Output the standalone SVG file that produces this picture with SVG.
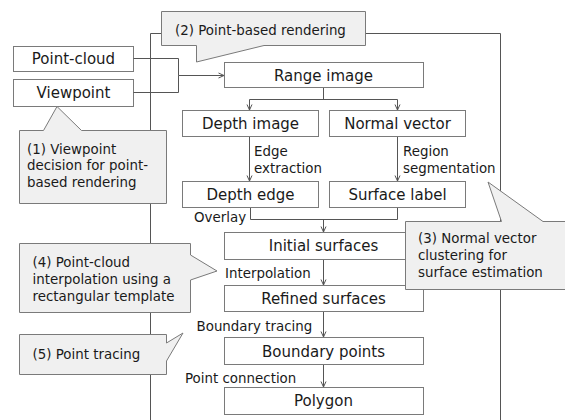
<svg xmlns="http://www.w3.org/2000/svg" width="565" height="420" viewBox="0 0 565 420">
<defs>
<style>
.box{fill:#fff;stroke:#7a7a7a;stroke-width:1}
.nt{font-family:"DejaVu Sans",Verdana,sans-serif;font-size:15px;fill:#1a1a1a;text-anchor:middle}
.lb{font-family:"DejaVu Sans",Verdana,sans-serif;font-size:13.4px;fill:#1a1a1a}
.ln{fill:none;stroke:#555;stroke-width:1}
.co{fill:#f0f0f0;stroke:#7a7a7a;stroke-width:1}
</style>
<marker id="ah" viewBox="0 0 10 10" refX="10" refY="5" markerWidth="10" markerHeight="10" markerUnits="userSpaceOnUse" orient="auto">
<path d="M4.5,2.5 L10,5 L4.5,7.5" fill="none" stroke="#555" stroke-width="1"/>
</marker>
</defs>
<rect width="565" height="420" fill="#fff"/>
<g id="frame">
<path class="ln" d="M150.5 420 V33.5 H500.5 V420" stroke="#777"/>
</g>
<g id="point-cloud"><rect class="box" x="13.5" y="46.5" width="120" height="25"/><text class="nt" x="73.5" y="64">Point-cloud</text></g>
<g id="viewpoint"><rect class="box" x="13.5" y="79.5" width="120" height="27"/><text class="nt" x="73.5" y="98">Viewpoint</text></g>
<g id="range-image"><rect class="box" x="224.5" y="62.5" width="199" height="25"/><text class="nt" x="323.5" y="81">Range image</text></g>
<g id="depth-image"><rect class="box" x="182.5" y="110.5" width="136" height="26"/><text class="nt" x="250.5" y="128.5">Depth image</text></g>
<g id="normal-vector"><rect class="box" x="329.5" y="110.5" width="136" height="26"/><text class="nt" x="397.5" y="128.5">Normal vector</text></g>
<g id="depth-edge"><rect class="box" x="182.5" y="181.5" width="136" height="26"/><text class="nt" x="250.5" y="199.5">Depth edge</text></g>
<g id="surface-label"><rect class="box" x="329.5" y="181.5" width="136" height="26"/><text class="nt" x="397.5" y="199.5">Surface label</text></g>
<g id="initial-surfaces"><rect class="box" x="224.5" y="232.5" width="199" height="27"/><text class="nt" x="323.5" y="251">Initial surfaces</text></g>
<g id="refined-surfaces"><rect class="box" x="224.5" y="285.5" width="199" height="26"/><text class="nt" x="323.5" y="303.5">Refined surfaces</text></g>
<g id="boundary-points"><rect class="box" x="224.5" y="337.5" width="199" height="27"/><text class="nt" x="323.5" y="356.5">Boundary points</text></g>
<g id="polygon"><rect class="box" x="224.5" y="387.5" width="199" height="27"/><text class="nt" x="323.5" y="406">Polygon</text></g>
<g id="connectors">
<path class="ln" d="M133.5 58.5 H178.5 V75.5"/>
<path class="ln" d="M133.5 92.5 H178.5 V75.5"/>
<path class="ln" d="M178.5 75.5 H224" marker-end="url(#ah)"/>
<path class="ln" d="M323.5 88 V99.5"/>
<path class="ln" d="M249.5 99.5 H397.5"/>
<path class="ln" d="M249.5 99.5 V110" marker-end="url(#ah)"/>
<path class="ln" d="M397.5 99.5 V110" marker-end="url(#ah)"/>
<path class="ln" d="M249.5 137 V181" marker-end="url(#ah)"/>
<path class="ln" d="M397.5 137 V181" marker-end="url(#ah)"/>
<path class="ln" d="M250.5 208 V219.5 H397.5 V208"/>
<path class="ln" d="M323.5 219.5 V232" marker-end="url(#ah)"/>
<path class="ln" d="M323.5 260 V285" marker-end="url(#ah)"/>
<path class="ln" d="M323.5 312 V337" marker-end="url(#ah)"/>
<path class="ln" d="M323.5 365 V387" marker-end="url(#ah)"/>
<text class="lb" x="254" y="156">Edge</text>
<text class="lb" x="254" y="173">extraction</text>
<text class="lb" x="403" y="156">Region</text>
<text class="lb" x="403" y="173">segmentation</text>
<text class="lb" x="194" y="221.5">Overlay</text>
<text class="lb" x="225" y="277.5">Interpolation</text>
<text class="lb" x="196.5" y="330.5">Boundary tracing</text>
<text class="lb" x="185" y="383">Point connection</text>
</g>
<g id="callout-2">
<path class="co" d="M161.5 11.5 H365.5 V45.5 H264 L196.5 62 V45.5 H161.5 Z"/>
<text class="lb" x="175" y="35">(2) Point-based rendering</text>
</g>
<g id="callout-1">
<path class="co" d="M19.5 130.5 H43.5 L57 106.5 L81.5 130.5 H166.5 V203.5 H19.5 Z"/>
<text class="lb" x="27" y="153.5">(1) Viewpoint</text>
<text class="lb" x="27" y="170">decision for point-</text>
<text class="lb" x="27" y="186.5">based rendering</text>
</g>
<g id="callout-3">
<path class="co" d="M405.5 221.5 H501.5 L488 182 L543 221.5 H570 V289.5 H405.5 Z"/>
<text class="lb" x="418" y="243">(3) Normal vector</text>
<text class="lb" x="418" y="260">clustering for</text>
<text class="lb" x="418" y="277">surface estimation</text>
</g>
<g id="callout-4">
<path class="co" d="M19.5 243.5 H190.5 V255 L217 271 L190.5 280 V312.5 H19.5 Z"/>
<text class="lb" x="32.5" y="267">(4) Point-cloud</text>
<text class="lb" x="32.5" y="284">interpolation using a</text>
<text class="lb" x="32.5" y="301">rectangular template</text>
</g>
<g id="callout-5">
<path class="co" d="M19.5 334.5 H166.5 V343 L183 333 L166.5 361 V374.5 H19.5 Z"/>
<text class="lb" x="32.5" y="359">(5) Point tracing</text>
</g>
</svg>
